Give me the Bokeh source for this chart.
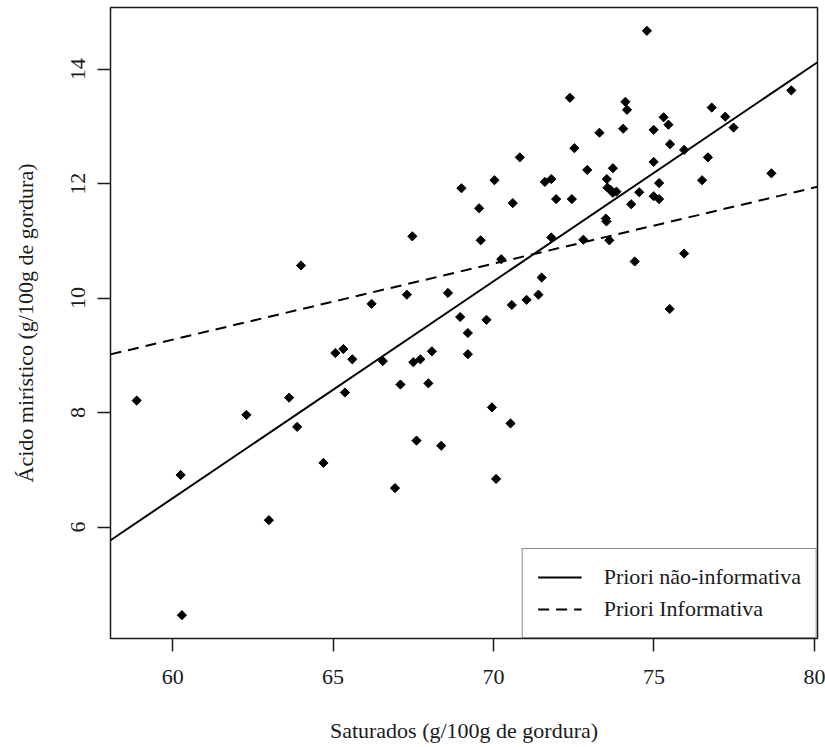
import numpy as np
from bokeh.plotting import figure
from bokeh.models import Range1d, FixedTicker, Legend, LegendItem
from bokeh.embed import file_html
from bokeh.resources import INLINE

# ---- data ----
saturados = [58.88, 60.25, 60.29, 62.30, 63.00, 63.63, 63.88, 64.00, 64.70, 65.07,
             65.32, 65.60, 65.37, 66.20, 66.55, 66.93, 67.10, 67.30, 67.47, 67.50,
             67.60, 67.72, 67.97, 68.08, 68.37, 68.58, 68.96, 69.00, 69.20, 69.20,
             69.55, 69.60, 69.78, 69.95, 70.03, 70.08, 70.24, 70.53, 70.57, 70.60,
             70.82, 71.03, 71.40, 71.50, 71.60, 71.80, 71.80, 71.95, 72.38, 72.44,
             72.52, 72.80, 72.92, 73.30, 73.50, 73.52, 73.53, 73.55, 73.61, 73.65,
             73.72, 73.72, 73.83, 74.04, 74.11, 74.16, 74.29, 74.40, 74.54, 74.78,
             74.99, 74.99, 74.99, 75.16, 75.16, 75.30, 75.45, 75.49, 75.50, 75.94,
             75.94, 76.50, 76.68, 76.80, 77.22, 77.48, 78.66, 79.28]
miristico = [8.21, 6.91, 4.46, 7.96, 6.12, 8.26, 7.75, 10.57, 7.12, 9.04,
             9.11, 8.93, 8.35, 9.90, 8.90, 6.68, 8.49, 10.06, 11.08, 8.88,
             7.51, 8.93, 8.51, 9.07, 7.42, 10.09, 9.67, 11.92, 9.39, 9.02,
             11.57, 11.01, 9.62, 8.09, 12.06, 6.84, 10.68, 7.81, 9.88, 11.66,
             12.46, 9.97, 10.06, 10.36, 12.03, 12.08, 11.06, 11.73, 13.50, 11.73,
             12.62, 11.02, 12.24, 12.89, 11.39, 11.34, 12.08, 11.93, 11.01, 11.89,
             12.27, 11.84, 11.86, 12.96, 13.43, 13.29, 11.64, 10.64, 11.85, 14.67,
             12.94, 12.38, 11.78, 12.01, 11.73, 13.16, 13.03, 9.81, 12.69, 12.59,
             10.78, 12.06, 12.46, 13.33, 13.17, 12.98, 12.18, 13.63]

# regression lines: [intercept, slope]
coef_nao_informativa = [-16.25, 0.3792]
coef_informativa = [1.30, 0.1329]

legend_labels = ["Priori não-informativa", "Priori Informativa"]
x_ticks = [60, 65, 70, 75, 80]
y_ticks = [6, 8, 10, 12, 14]
x_title = "Saturados (g/100g de gordura)"
y_title = "Ácido mirístico (g/100g de gordura)"

FONT = "Liberation Serif"
FS = "22px"
INK = "#1a1a1a"

x_pad = 0.04 * (max(saturados) - min(saturados))
y_pad = 0.04 * (max(miristico) - min(miristico))

p = figure(width=825, height=747,
           x_range=Range1d(min(saturados) - x_pad, max(saturados) + x_pad),
           y_range=Range1d(min(miristico) - y_pad, max(miristico) + y_pad),
           output_backend="svg", toolbar_location=None,
           min_border_left=110, min_border_right=8,
           min_border_top=7, min_border_bottom=109,
           background_fill_color="white", border_fill_color="white")
p.grid.visible = False
p.outline_line_color = INK
p.outline_line_width = 1.5

p.scatter(saturados, miristico, marker="square", angle=np.pi / 4, size=6.5,
          fill_color="black", line_color="black")

xs = np.array([p.x_range.start, p.x_range.end])
l1 = p.line(xs, coef_nao_informativa[0] + coef_nao_informativa[1] * xs,
            line_color="black", line_width=2)
l2 = p.line(xs, coef_informativa[0] + coef_informativa[1] * xs,
            line_color="black", line_width=2, line_dash="11 7")

legend = Legend(items=[LegendItem(label=legend_labels[0], renderers=[l1]),
                       LegendItem(label=legend_labels[1], renderers=[l2])],
                location="bottom_right", margin=0, padding=15, spacing=6,
                glyph_width=44, label_standoff=22,
                label_text_font=FONT, label_text_font_size=FS,
                label_text_color=INK,
                border_line_color=INK, border_line_width=1.5,
                background_fill_color="white", background_fill_alpha=1.0)
p.add_layout(legend)

p.xaxis.ticker = FixedTicker(ticks=x_ticks)
p.yaxis.ticker = FixedTicker(ticks=y_ticks)
p.xaxis.axis_label = x_title
p.yaxis.axis_label = y_title
p.yaxis.major_label_orientation = "vertical"
for ax in (p.xaxis, p.yaxis):
    ax.axis_line_color = None
    ax.major_tick_line_color = INK
    ax.major_tick_line_width = 1.5
    ax.major_tick_out = 13
    ax.major_tick_in = 0
    ax.minor_tick_line_color = None
    ax.major_label_text_font = FONT
    ax.major_label_text_font_size = FS
    ax.major_label_text_color = INK
    ax.axis_label_text_font = FONT
    ax.axis_label_text_font_size = FS
    ax.axis_label_text_font_style = "normal"
    ax.axis_label_text_color = INK
p.xaxis.major_label_standoff = 18
p.xaxis.axis_label_standoff = 31
p.yaxis.major_label_standoff = 12
p.yaxis.axis_label_standoff = 31

open("out.html", "w").write(file_html(p, INLINE))
